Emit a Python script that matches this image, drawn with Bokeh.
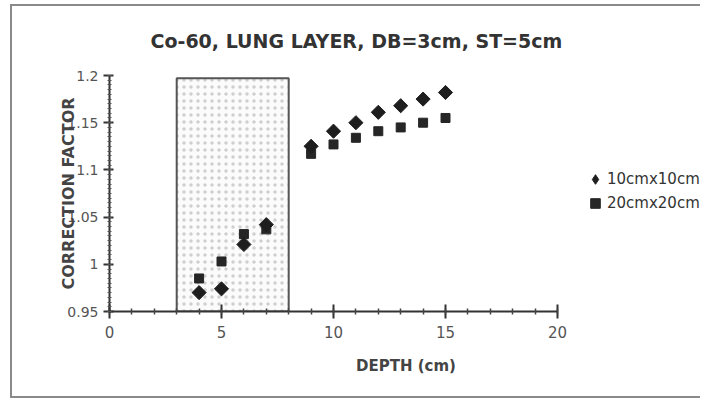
import numpy as np
from bokeh.plotting import figure
from bokeh.models import FixedTicker, CustomJSTickFormatter, Legend, LegendItem, Range1d, Title
from bokeh.embed import file_html
from bokeh.resources import INLINE

# ---- data ----
title_text = "Co-60, LUNG LAYER, DB=3cm, ST=5cm"
x_label = "DEPTH (cm)"
y_label = "CORRECTION FACTOR"
series_labels = ["10cmx10cm", "20cmx20cm"]
depth = [4, 5, 6, 7, 9, 10, 11, 12, 13, 14, 15]
cf_10x10 = [0.970, 0.974, 1.021, 1.042, 1.125, 1.141, 1.150, 1.161, 1.168, 1.175, 1.182]
cf_20x20 = [0.985, 1.003, 1.032, 1.037, 1.117, 1.127, 1.134, 1.141, 1.145, 1.150, 1.155]
lung_depth = [3, 8]          # lung layer extent (cm)
lung_cf = [0.95, 1.197]      # shaded box vertical extent
x_axis_bounds = (0, 20)
x_ticks = [0, 5, 10, 15, 20]
x_minor = list(range(0, 21))
y_ticks = [0.95, 1.0, 1.05, 1.1, 1.15, 1.2]
y_minor = [round(0.95 + 0.005 * i, 3) for i in range(51)]

FONT = "DejaVu Sans"
BORDER = "2px solid #8a8a8a"

# layout (pixels)
W, H = 690, 394
LEFT, TOP, BOTTOM = 97, 69, 89
AXIS_PX = 448              # pixel length of the 0..20 axis
x_end = x_axis_bounds[1] * (W - LEFT) / AXIS_PX   # frame extends right to hold the legend

p = figure(width=W, height=H, output_backend="svg", toolbar_location=None,
           x_range=Range1d(0, x_end), y_range=Range1d(0.95, 1.2),
           min_border_left=LEFT, min_border_right=0, min_border_top=TOP, min_border_bottom=BOTTOM,
           title=None)
p.styles = {"margin-left": "10px", "margin-top": "4px",
            "border-left": BORDER, "border-top": BORDER, "border-bottom": BORDER}
p.outline_line_color = None
p.grid.visible = False
p.background_fill_color = "white"
p.border_fill_color = "white"

title = Title(text=title_text, text_font=FONT, text_font_size="19px", text_font_style="bold",
              text_color="#333333", align="left", offset=41, vertical_align="top", standoff=44)
p.add_layout(title, "above")

# x axis
xa = p.xaxis[0]
xa.bounds = x_axis_bounds
xa.ticker = FixedTicker(ticks=x_ticks, minor_ticks=x_minor)
xa.axis_line_color = "#333333"
xa.axis_line_width = 2
xa.major_tick_line_color = "#333333"
xa.major_tick_line_width = 2
xa.major_tick_in = 7
xa.major_tick_out = 7
xa.minor_tick_line_color = "#444444"
xa.minor_tick_line_width = 1.5
xa.minor_tick_in = 3
xa.minor_tick_out = 3
xa.major_label_standoff = 7
xa.major_label_text_font = FONT
xa.major_label_text_font_size = "15px"
xa.major_label_text_color = "#555555"
xa.axis_label = x_label
xa.axis_label_text_font = FONT
xa.axis_label_text_font_size = "15px"
xa.axis_label_text_font_style = "bold"
xa.axis_label_text_color = "#444444"
xa.axis_label_standoff = 16

# y axis
ya = p.yaxis[0]
ya.ticker = FixedTicker(ticks=y_ticks, minor_ticks=y_minor)
ya.formatter = CustomJSTickFormatter(code="return tick.toString();")
ya.axis_line_color = "#333333"
ya.axis_line_width = 2
ya.major_tick_line_color = "#333333"
ya.major_tick_line_width = 2
ya.major_tick_in = 4
ya.major_tick_out = 6
ya.minor_tick_line_color = "#555555"
ya.minor_tick_line_width = 1
ya.minor_tick_in = 2
ya.minor_tick_out = 2
ya.major_label_standoff = 5
ya.major_label_text_font = FONT
ya.major_label_text_font_size = "14px"
ya.major_label_text_color = "#555555"
ya.axis_label = y_label
ya.axis_label_text_font = FONT
ya.axis_label_text_font_size = "16px"
ya.axis_label_text_font_style = "bold"
ya.axis_label_text_color = "#444444"
ya.axis_label_standoff = -14

# lung layer box (light dotted fill)
p.quad(left=[lung_depth[0]], right=[lung_depth[1]], bottom=[lung_cf[0]], top=[lung_cf[1]],
       fill_color="#fbfbfb", hatch_pattern="dot", hatch_color="#cfcfcf", hatch_scale=7,
       hatch_weight=1, line_color="#555555", line_width=2)

r2 = p.scatter(depth, cf_20x20, marker="square", size=9, color="#262626")
r1 = p.scatter(depth, cf_10x10, marker="square", angle=np.pi / 4, size=10, color="#1e1e1e")
# legend-only twin of the 10x10 series so its legend key is drawn as a diamond
r1_key = p.scatter(depth, cf_10x10, marker="diamond", size=12, color="#1e1e1e", visible=False)

legend = Legend(items=[LegendItem(label=series_labels[0], renderers=[r1_key]),
                       LegendItem(label=series_labels[1], renderers=[r2])],
                location=(474, 96), border_line_color=None, background_fill_alpha=0,
                inactive_fill_alpha=0,
                padding=0, margin=0, spacing=0, glyph_width=24, glyph_height=24,
                label_height=24, label_standoff=0, label_text_font=FONT,
                label_text_font_size="15px", label_text_color="#333333")
p.add_layout(legend)

open("out.html", "w").write(file_html(p, INLINE))
